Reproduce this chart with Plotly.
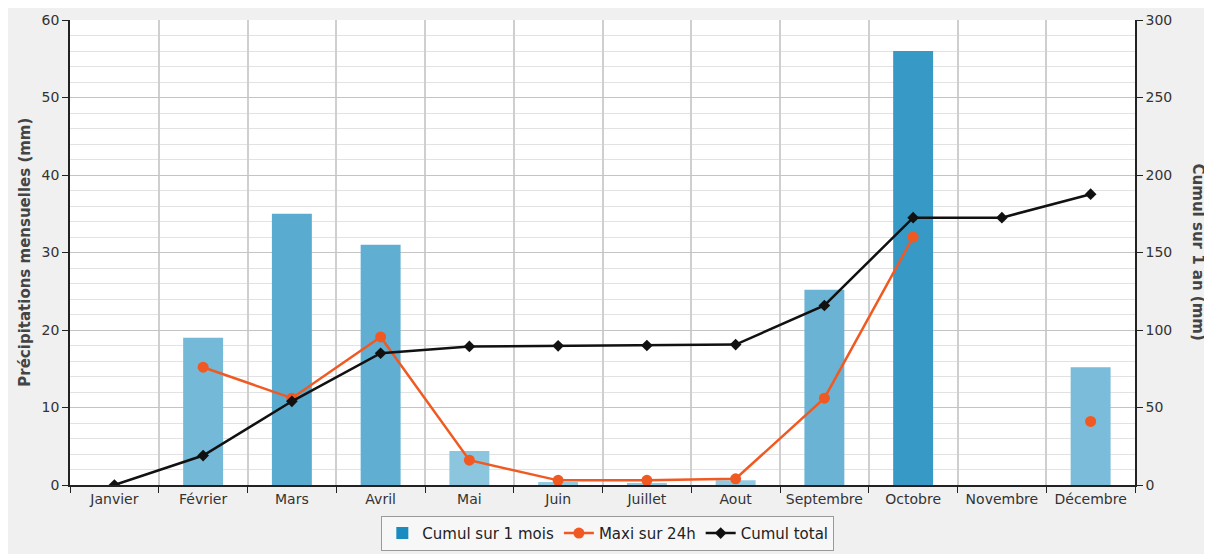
import plotly.graph_objects as go

mois = ["Janvier", "Février", "Mars", "Avril", "Mai", "Juin", "Juillet", "Aout",
        "Septembre", "Octobre", "Novembre", "Décembre"]
cumul_mois = [0, 19, 35, 31, 4.4, 0.4, 0.2, 0.6, 25.2, 56, 0, 15.2]
maxi_24h = [None, 15.2, 11.2, 19.1, 3.2, 0.6, 0.6, 0.8, 11.2, 32.0, None, 8.2]
cumul_total = [0, 19, 54, 85, 89.4, 89.8, 90, 90.6, 115.8, 172.5, 172.5, 187.6]

LIGHT = (147, 201, 224)
DARK = (24, 137, 189)


def shade(v, vmax=60.0):
    t = min(max((v / 2.0) / vmax * 1.6, 0), 1)
    c = [round(LIGHT[i] + (DARK[i] - LIGHT[i]) * t) for i in range(3)]
    return "rgb(%d,%d,%d)" % tuple(c)


bar_colors = [shade(v) for v in cumul_mois]

fig = go.Figure()
# legend swatch for the bars (dark like the reference); zero-height at first month
fig.add_trace(go.Bar(x=mois[:1], y=cumul_mois[:1], name="Cumul sur 1 mois",
                     marker=dict(color="#1a8bbf", line=dict(width=0)), width=0.45,
                     showlegend=True, hoverinfo="skip"))
fig.add_trace(go.Bar(x=mois, y=cumul_mois, name="Cumul sur 1 mois",
                     marker=dict(color=bar_colors, line=dict(width=0)),
                     width=0.45, showlegend=False))
fig.add_trace(go.Scatter(x=mois, y=maxi_24h, name="Maxi sur 24h", mode="lines+markers",
                         line=dict(color="#f05a22", width=2.5),
                         marker=dict(color="#f05a22", size=11, symbol="circle"),
                         connectgaps=False))
fig.add_trace(go.Scatter(x=mois, y=cumul_total, name="Cumul total", mode="lines+markers",
                         line=dict(color="#111111", width=2.5),
                         marker=dict(color="#111111", size=9, symbol="diamond"),
                         yaxis="y2"))

font = "DejaVu Sans"
tickfont = dict(family=font, size=14, color="#333333")
fig.update_layout(
    width=1204, height=546,
    margin=dict(l=62, r=77, t=12, b=69, autoexpand=False),
    paper_bgcolor="#f0f0f0",
    plot_bgcolor="#ffffff",
    barmode="overlay",
    font=dict(family=font, size=14, color="#333333"),
    xaxis=dict(
        type="category", tickson="boundaries", ticks="outside", ticklen=6,
        tickcolor="#222222", showline=True, linecolor="#222222", linewidth=1.5,
        showgrid=True, gridcolor="#cfcfcf", gridwidth=1.5,
        tickfont=tickfont, range=[-0.5, 11.5],
    ),
    yaxis=dict(
        range=[0, 60], dtick=10, ticks="outside", ticklen=6, tickcolor="#222222",
        showline=True, linecolor="#222222", linewidth=1.5,
        showgrid=True, gridcolor="#c4c4c4", gridwidth=1.3,
        minor=dict(dtick=2, showgrid=True, gridcolor="#e2e2e2", gridwidth=1.3),
        zeroline=False, tickfont=tickfont,
    ),
    yaxis2=dict(
        range=[0, 300], dtick=50, overlaying="y", side="right",
        ticks="outside", ticklen=6, tickcolor="#222222",
        showline=True, linecolor="#222222", linewidth=1.5,
        showgrid=False, zeroline=False, tickfont=tickfont,
    ),
    legend=dict(
        orientation="h", x=0.505, xanchor="center",
        yref="container", y=0.07, yanchor="top",
        bgcolor="#f7f7f7", bordercolor="#9a9a9a", borderwidth=1,
        font=dict(family=font, size=15, color="#222222"),
        traceorder="normal",
    ),
    annotations=[
        dict(text="<b>Précipitations mensuelles (mm)</b>", xref="paper", yref="paper",
             x=-0.043, y=0.50, textangle=-90, showarrow=False, xanchor="center",
             yanchor="middle", font=dict(family=font, size=15, color="#444444")),
        dict(text="<b>Cumul sur 1 an (mm)</b>", xref="paper", yref="paper",
             x=1.06, y=0.50, textangle=90, showarrow=False, xanchor="center",
             yanchor="middle", font=dict(family=font, size=15, color="#444444")),
    ],
)

fig.write_html("out.html")
